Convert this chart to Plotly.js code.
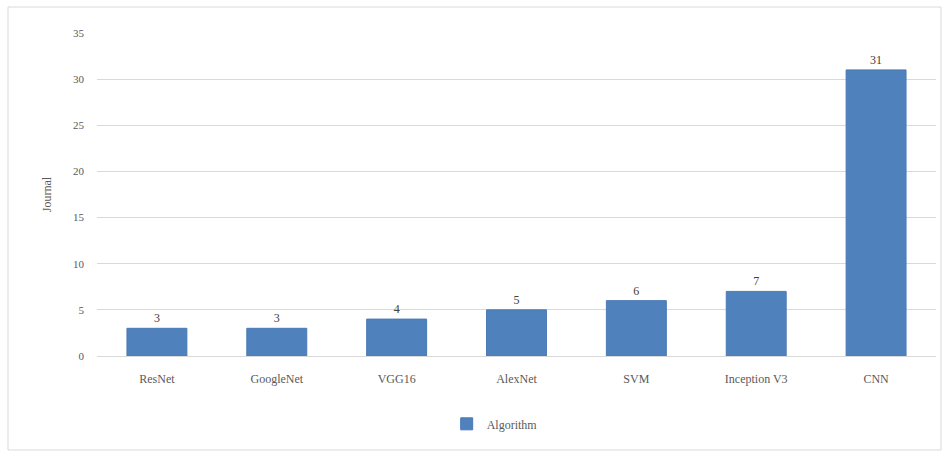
<!DOCTYPE html>
<html>
<head>
<meta charset="utf-8">
<script src="https://cdn.plot.ly/plotly-3.0.1.min.js"></script>
<style>html,body{margin:0;padding:0;background:#fff;}</style>
</head>
<body>
<div id="chart" style="width:949px;height:455px;"></div>
<script>
var categories = ["ResNet", "GoogleNet", "VGG16", "AlexNet", "SVM", "Inception V3", "CNN"];
var journalCounts = [3, 3, 4, 5, 6, 7, 31];
var seriesName = "Algorithm";
var yTicks = [0, 5, 10, 15, 20, 25, 30, 35];

var textColor = "#595959";
var fontFam = "'Liberation Serif', 'DejaVu Serif', serif";

var trace = {
  type: "bar",
  x: categories,
  y: journalCounts,
  name: seriesName,
  width: 0.5,
  marker: {color: "#4f81bd", line: {color: "#4a7ab5", width: 1}},
  text: journalCounts.map(String),
  textposition: "outside",
  cliponaxis: false,
  textfont: {family: fontFam, size: 12, color: "#404040"},
  showlegend: true
};

var L = 97, R = 936, T = 33, B = 356;
var W = 949, H = 455;

var layout = {
  width: W, height: H,
  margin: {l: L, r: W - R, t: T, b: H - B, pad: 0},
  paper_bgcolor: "#ffffff",
  plot_bgcolor: "#ffffff",
  font: {family: fontFam, size: 11, color: textColor},
  bargap: 0.5,
  xaxis: {
    showgrid: false, zeroline: false, showline: false,
    ticks: "", ticklabelstandoff: 14,
    tickfont: {family: fontFam, size: 12, color: textColor}
  },
  yaxis: {
    range: [0, 35],
    tickvals: yTicks,
    ticktext: yTicks.map(String),
    showgrid: true, gridcolor: "#d9d9d9", gridwidth: 1,
    zeroline: true, zerolinecolor: "#d9d9d9",
    showline: false, ticks: "", ticklabelstandoff: 12,
    tickfont: {family: fontFam, size: 11, color: textColor},
    title: {text: "Journal", font: {family: fontFam, size: 12, color: textColor}, standoff: 18}
  },
  legend: {
    orientation: "h",
    x: 0.474, xanchor: "center",
    y: -0.21, yanchor: "middle",
    font: {family: fontFam, size: 12, color: textColor},
    itemwidth: 30
  },
  shapes: [{
    type: "rect", xref: "paper", yref: "paper",
    x0: (8 - L) / (R - L), x1: (941 - L) / (R - L),
    y0: (B - 450) / (B - T), y1: (B - 7) / (B - T),
    line: {color: "#d9d9d9", width: 1}, fillcolor: "rgba(0,0,0,0)", layer: "below"
  }]
};

Plotly.newPlot("chart", [trace], layout, {displayModeBar: false, staticPlot: true});
</script>
</body>
</html>
